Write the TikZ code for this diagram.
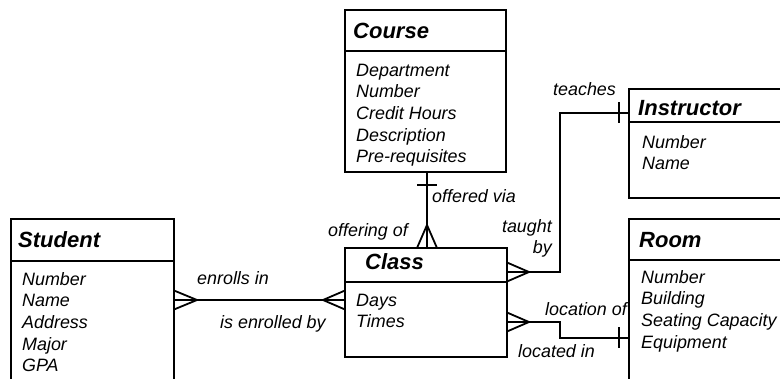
\documentclass[tikz,border=0pt]{standalone}
\usepackage{fontspec}
\setmainfont{Liberation Sans}
\usetikzlibrary{calc}
\tikzset{
  box/.style={draw, line width=1.8pt, inner sep=0pt, outer sep=0pt, anchor=north west},
  sepline/.style={line width=1.8pt},
  hdr/.style={anchor=base west, inner sep=0pt, font=\fontsize{22}{26}\selectfont\bfseries\itshape},
  attr/.style={anchor=base west, inner sep=0pt, font=\fontsize{17.9}{21}\selectfont\itshape},
  lbl/.style={inner sep=0pt, font=\fontsize{17.9}{21}\selectfont\itshape},
  conn/.style={line width=1.8pt},
}
\begin{document}
\begin{tikzpicture}[x=1pt,y=-1pt]
\useasboundingbox (0,0) rectangle (780,378);
\begin{scope}
\clip (0,0) rectangle (780,378);
% boxes
\node[box, minimum width=163pt, minimum height=200pt] (student) at (11,219) {};
\node[box, minimum width=161pt, minimum height=162pt] (course) at (345,10) {};
\node[box, minimum width=162pt, minimum height=109pt] (class) at (345,248) {};
\node[box, minimum width=200pt, minimum height=109pt] (instructor) at (629,89) {};
\node[box, minimum width=200pt, minimum height=200pt] (room) at (629,219) {};
% separators
\draw[sepline] ($(student.north west)+(0,42)$) -- ($(student.north east)+(0,42)$);
\draw[sepline] ($(course.north west)+(0,41)$) -- ($(course.north east)+(0,41)$);
\draw[sepline] ($(class.north west)+(0,34)$) -- ($(class.north east)+(0,34)$);
\draw[sepline] ($(instructor.north west)+(0,33)$) -- ($(instructor.north east)+(0,33)$);
\draw[sepline] ($(room.north west)+(0,41)$) -- ($(room.north east)+(0,41)$);
\end{scope}
% headers
\node[hdr] (hstudent) at (18,247) {Student};
\node[hdr] (hcourse) at (353,38) {Course};
\node[hdr] (hclass) at (365,269) {Class};
\node[hdr] (hinstructor) at (638,115) {Instructor};
\node[hdr] (hroom) at (639,247) {Room};
% attributes
\foreach \t [count=\i] in {Number,Name,Address,Major,GPA}
  \node[attr] (sa\i) at (22,{285+21.7*(\i-1)}) {\t};
\foreach \t [count=\i] in {Department,Number,Credit Hours,Description,Pre-requisites}
  \node[attr] (ca\i) at (356,{76+21.7*(\i-1)}) {\t};
\foreach \t [count=\i] in {Days,Times}
  \node[attr] (cla\i) at (356,{306+21.3*(\i-1)}) {\t};
\foreach \t [count=\i] in {Number,Name}
  \node[attr] (ia\i) at (642,{148+21.3*(\i-1)}) {\t};
\foreach \t [count=\i] in {Number,Building,Seating Capacity,Equipment}
  \node[attr] (ra\i) at (641,{283+21.7*(\i-1)}) {\t};
% Course -- Class
\coordinate (cA) at ($(course.south west)+(82,0)$);
\coordinate (cB) at ($(class.north west)+(82,0)$);
\draw[conn] (cA) -- (cB);
\draw[conn] ($(cA)+(-10,13)$) -- ($(cA)+(10,13)$);
\draw[conn] ($(cB)+(-10,0)$) -- ($(cB)+(0,-23)$) -- ($(cB)+(10,0)$);
% Student -- Class
\coordinate (sA) at ($(student.north east)+(0,81)$);
\coordinate (sB) at ($(class.north west)+(0,52)$);
\draw[conn] (sA) -- (sB);
\draw[conn] ($(sA)+(0,-9.5)$) -- ($(sA)+(23,0)$) -- ($(sA)+(0,9.5)$);
\draw[conn] ($(sB)+(0,-9.5)$) -- ($(sB)+(-22,0)$) -- ($(sB)+(0,9.5)$);
% Class -- Instructor
\coordinate (iA) at ($(class.north east)+(0,24)$);
\coordinate (iB) at ($(instructor.north west)+(0,24)$);
\draw[conn] (iA) -- ++(53,0) |- (iB);
\draw[conn] ($(iB)+(-10,-11)$) -- ($(iB)+(-10,10)$);
\draw[conn] ($(iA)+(0,-9.5)$) -- ($(iA)+(22,0)$) -- ($(iA)+(0,9.5)$);
% Class -- Room
\coordinate (rA) at ($(class.north east)+(0,74)$);
\coordinate (rB) at ($(room.north west)+(0,119)$);
\draw[conn] (rA) -- ++(53,0) |- (rB);
\draw[conn] ($(rB)+(-10,-11)$) -- ($(rB)+(-10,10)$);
\draw[conn] ($(rA)+(0,-9.5)$) -- ($(rA)+(22,0)$) -- ($(rA)+(0,9.5)$);
% labels
\node[lbl, anchor=base west] (teaches) at (553,95) {teaches};
\node[lbl, anchor=base east] (taught) at (552,232) {taught};
\node[lbl, anchor=base east] (by) at (552,253) {by};
\node[lbl, anchor=base east] (locof) at (627,315) {location of};
\node[lbl, anchor=base west] (locin) at (518,357) {located in};
\node[lbl, anchor=base west] (enr) at (197,284) {enrolls in};
\node[lbl, anchor=base west] (isenr) at (220,328) {is enrolled by};
\node[lbl, anchor=base west] (offv) at (432,202) {offered via};
\node[lbl, anchor=base west] (offof) at (328,236) {offering of};
\end{tikzpicture}
\end{document}
